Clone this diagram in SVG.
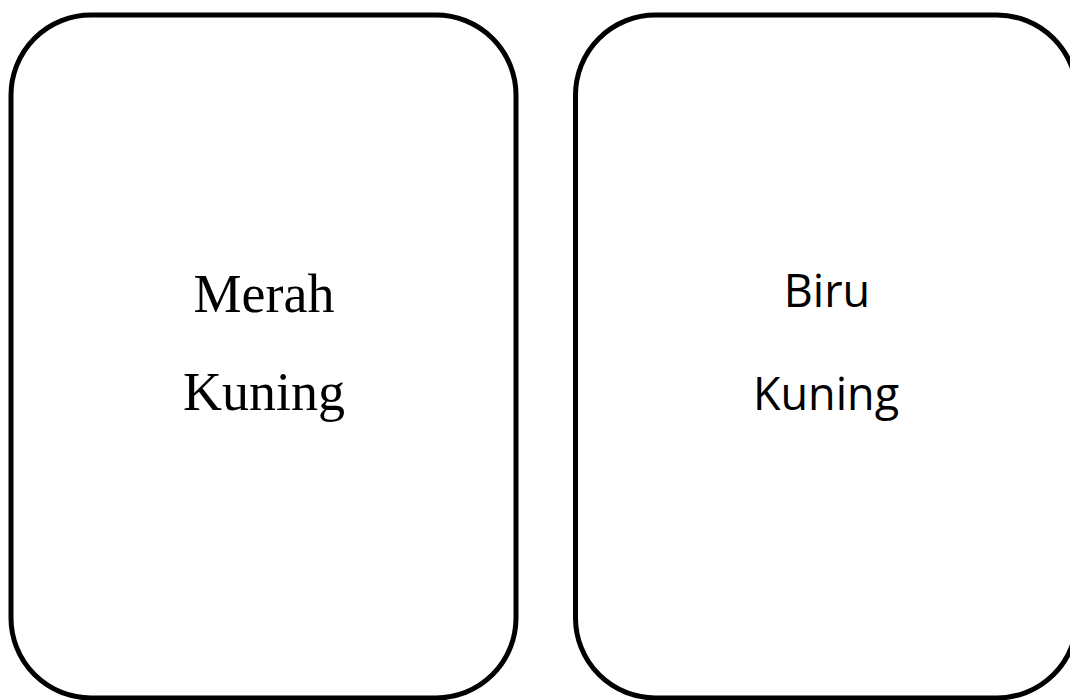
<svg xmlns="http://www.w3.org/2000/svg" width="1070" height="700" viewBox="0 0 1070 700">
<style>
.card{fill:#fff;stroke:#000;stroke-width:5}
.serif{font-family:"Liberation Serif","DejaVu Serif",serif;font-size:54px;fill:#000;text-anchor:middle}
.sans{font-family:"Open Sans","Noto Sans",sans-serif;font-size:45px;fill:#000;text-anchor:middle}
</style>
<rect width="1070" height="700" fill="#fff"/>
<g id="card-left">
<rect class="card" x="11" y="15" width="505" height="683" rx="80" ry="80"/>
<text class="serif" x="264" y="312">Merah</text>
<text class="serif" x="264" y="410">Kuning</text>
</g>
<g id="card-right">
<rect class="card" x="575.5" y="15" width="501.5" height="683" rx="80" ry="80"/>
<text class="sans" x="827" y="307">Biru</text>
<text class="sans" x="826" y="410">Kuning</text>
</g>
<g id="connectors"/>
</svg>
